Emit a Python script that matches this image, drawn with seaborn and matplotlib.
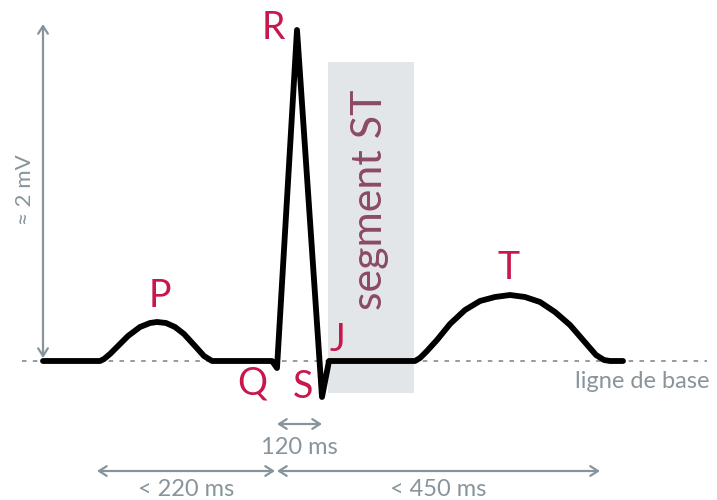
import matplotlib
matplotlib.use('Agg')
import matplotlib.pyplot as plt
import seaborn as sns

# ECG trace (x: px across, y: px down from top)
ecg_x = [43, 100, 104, 110, 118, 128, 140, 150, 157, 166, 175, 184, 195, 204, 212,
         272, 277, 297, 322, 329,
         415, 420, 427, 437, 450, 465, 480, 495, 510, 525, 540, 555, 570, 583, 596, 604, 610, 623]
ecg_y = [361, 361, 359, 354, 346, 336, 327, 323, 322, 323, 327, 334, 346, 356, 361,
         361, 368, 30, 397, 361,
         361, 358, 351, 340, 324, 310, 301, 297, 295, 297, 302, 312, 325, 340, 355, 360, 361, 361]

baseline_y = 361
baseline_span = [22, 707]

wave_labels = ['P', 'Q', 'R', 'S', 'J', 'T']
wave_label_x = [160, 252, 273, 303, 337, 508]
wave_label_y = [296, 384, 28, 387, 340, 268]

st_segment = [328, 414]      # x range
st_top, st_bottom = 62, 393

intervals = ['120 ms', '< 220 ms', '< 450 ms']
interval_start = [277, 97, 277]
interval_end = [322, 275, 600]
interval_row = [424, 471, 471]
interval_text_y = [447, 489, 489]

red = '#c8174b'
grey = '#88949c'
mauve = '#8c4a63'

sns.set_style('white')
plt.rcParams['font.family'] = ['Lato', 'DejaVu Sans']

fig = plt.figure(figsize=(7.17, 5), dpi=100)
ax = fig.add_axes([0, 0, 1, 1])
ax.set_xlim(0, 717)
ax.set_ylim(500, 0)
ax.axis('off')

# ST segment box
ax.axvspan(st_segment[0], st_segment[1],
           ymin=1 - st_bottom / 500, ymax=1 - st_top / 500,
           color='#e3e6e9', lw=0, zorder=0)
ax.text(370, 200, 'segment ST',
        rotation=90, ha='center', va='center', fontsize=31, color=mauve)

# baseline
ax.plot(baseline_span, [baseline_y, baseline_y], color=grey, lw=1.3,
        ls=(0, (2.5, 3.5)), zorder=1)
ax.text(642, 382, 'ligne de base', ha='center', va='center', fontsize=17, color=grey)

# trace
sns.lineplot(x=ecg_x, y=ecg_y, sort=False, color='black', lw=4.2, ax=ax,
             solid_capstyle='round', solid_joinstyle='round', zorder=3)

for lab, x, y in zip(wave_labels, wave_label_x, wave_label_y):
    ax.text(x, y, lab, ha='center', va='center', fontsize=27, color=red, zorder=4)

arrow = dict(arrowstyle='<->, head_length=0.55, head_width=0.35', color=grey,
             lw=1.6, shrinkA=0, shrinkB=0)

# amplitude
ax.annotate('', xy=(43, 24), xytext=(43, 358), arrowprops=arrow)
ax.text(25, 190, '≈ 2 mV', rotation=90, ha='center', va='center', fontsize=16, color=grey)

# durations
for lab, x0, x1, y, ty in zip(intervals, interval_start, interval_end, interval_row, interval_text_y):
    ax.annotate('', xy=(x1, y), xytext=(x0, y), arrowprops=arrow)
    ax.text((x0 + x1) / 2, ty, lab, ha='center', va='center', fontsize=17, color=grey)

fig.savefig('out.png', dpi=100)
